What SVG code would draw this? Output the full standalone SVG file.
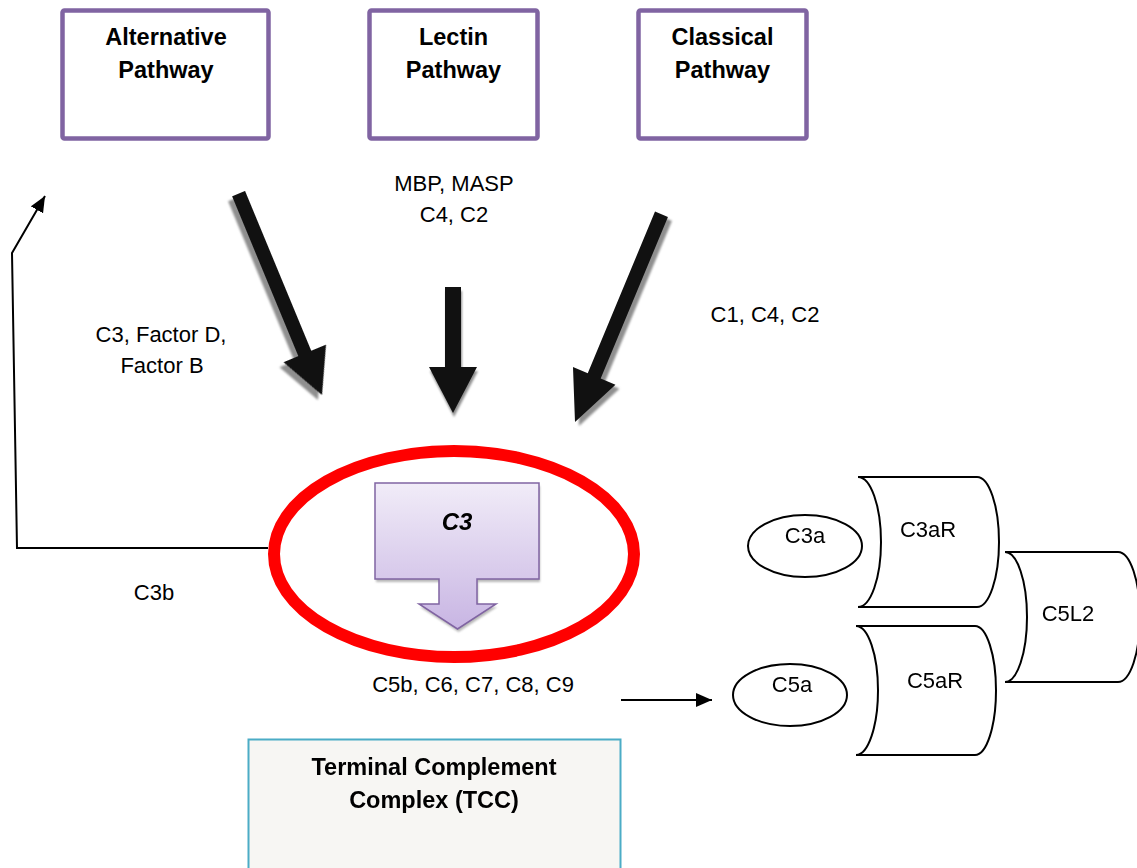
<svg xmlns="http://www.w3.org/2000/svg" width="1137" height="868" viewBox="0 0 1137 868">
<defs>
<style>
text{font-family:"Liberation Sans",Arial,sans-serif;fill:#000;text-anchor:middle}
.b{font-weight:bold;font-size:23.5px}
.r{font-size:22px}
.path{fill:#fff;stroke:#8064A2;stroke-width:4.5}
.blk{fill:#111}
.shd{fill:#8f8f8f}
.ln{fill:none;stroke:#000;stroke-width:2}
.can{fill:#fff;stroke:#000;stroke-width:2}
</style>
<linearGradient id="g" x1="0" y1="0" x2="0" y2="1">
<stop offset="0" stop-color="#F1ECF8"/>
<stop offset="1" stop-color="#C8B5E3"/>
</linearGradient>
<filter id="blur" x="-10%" y="-10%" width="120%" height="120%"><feGaussianBlur stdDeviation="1"/></filter>
<marker id="ah2" markerWidth="16" markerHeight="14" viewBox="0 0 16 14" refX="16" refY="7" orient="auto" markerUnits="userSpaceOnUse">
<path d="M0,0 L16,7 L0,14 Z" fill="#000"/>
</marker>
<path id="arrL" d="M-7,-218 L7,-218 L7,-45 L23,-45 L0,0 L-23,-45 L-7,-45 Z"/>
<path id="arrM" d="M-8,-126 L8,-126 L8,-46 L24,-46 L0,0 L-24,-46 L-8,-46 Z"/>
<path id="arrR" d="M-7,-225 L7,-225 L7,-50 L23,-50 L0,0 L-23,-50 L-7,-50 Z"/>
</defs>

<g id="alternative-pathway">
<rect class="path" x="62.5" y="10.5" width="206" height="128" rx="2"/>
<text class="b" x="166" y="45">Alternative</text>
<text class="b" x="166" y="78">Pathway</text>
</g>
<g id="lectin-pathway">
<rect class="path" x="369.5" y="10.5" width="168" height="128" rx="2"/>
<text class="b" x="453.5" y="45">Lectin</text>
<text class="b" x="453.5" y="78">Pathway</text>
</g>
<g id="classical-pathway">
<rect class="path" x="638.5" y="10.5" width="168" height="128" rx="2"/>
<text class="b" x="722.5" y="45">Classical</text>
<text class="b" x="722.5" y="78">Pathway</text>
</g>

<g id="labels">
<text class="r" x="454" y="191">MBP, MASP</text>
<text class="r" x="454" y="222">C4, C2</text>
<text class="r" x="161" y="342">C3, Factor D,</text>
<text class="r" x="162" y="373">Factor B</text>
<text class="r" x="765" y="322">C1, C4, C2</text>
<text class="r" x="154" y="600">C3b</text>
<text class="r" x="473" y="692">C5b, C6, C7, C8, C9</text>
</g>

<g id="connectors">
<g filter="url(#blur)">
<use href="#arrL" class="shd" transform="translate(318,400) rotate(-22.5)"/>
<use href="#arrM" class="shd" transform="translate(454,417)"/>
<use href="#arrR" class="shd" transform="translate(579,426) rotate(22.6)"/>
</g>
<use href="#arrL" class="blk" transform="translate(322,395) rotate(-22.5)"/>
<use href="#arrM" class="blk" transform="translate(453,413)"/>
<use href="#arrR" class="blk" transform="translate(575,422) rotate(22.6)"/>
<path class="ln" d="M268,548 H17 L12,253 L45,196" marker-end="url(#ah2)"/>
<path class="ln" d="M621,700 H712" marker-end="url(#ah2)"/>
</g>

<g id="c3-complex">
<ellipse cx="454" cy="554" rx="180" ry="103" fill="none" stroke="#FF0000" stroke-width="12"/>
<path d="M375,483 H539 V579 H477 V604 H496 L457.5,629 L419,604 H439 V579 H375 Z" fill="#888" opacity="0.6" transform="translate(1,3)" filter="url(#blur)"/>
<path d="M375,483 H539 V579 H477 V604 H496 L457.5,629 L419,604 H439 V579 H375 Z" fill="url(#g)" stroke="#8064A2" stroke-width="1.5"/>
<text x="457" y="530" style="font-weight:bold;font-style:italic;font-size:24px">C3</text>
</g>

<g id="c3a">
<ellipse class="can" cx="805" cy="546" rx="57" ry="31"/>
<text class="r" x="805" y="543">C3a</text>
</g>
<g id="c5a">
<ellipse class="can" cx="790" cy="695" rx="57" ry="31"/>
<text class="r" x="792" y="692">C5a</text>
</g>
<g id="c3ar">
<path class="can" d="M858,477 H977 A22,65 0 0 1 977,607 H858 A23,65 0 0 0 858,477 Z"/>
<text class="r" x="928" y="537">C3aR</text>
</g>
<g id="c5ar">
<path class="can" d="M856,626 H975 A21,64.5 0 0 1 975,755 H856 A22,64.5 0 0 0 856,626 Z"/>
<text class="r" x="935" y="688">C5aR</text>
</g>
<g id="c5l2">
<path class="can" d="M1005,552 H1118 A22,65 0 0 1 1118,682 H1005 A22,65 0 0 0 1005,552 Z"/>
<text class="r" x="1068" y="621">C5L2</text>
</g>

<g id="tcc">
<rect x="248.5" y="739.5" width="372" height="140" fill="#F7F6F3" stroke="#4BACC6" stroke-width="2"/>
<text class="b" x="434" y="775">Terminal Complement</text>
<text class="b" x="434" y="808">Complex (TCC)</text>
</g>
</svg>
